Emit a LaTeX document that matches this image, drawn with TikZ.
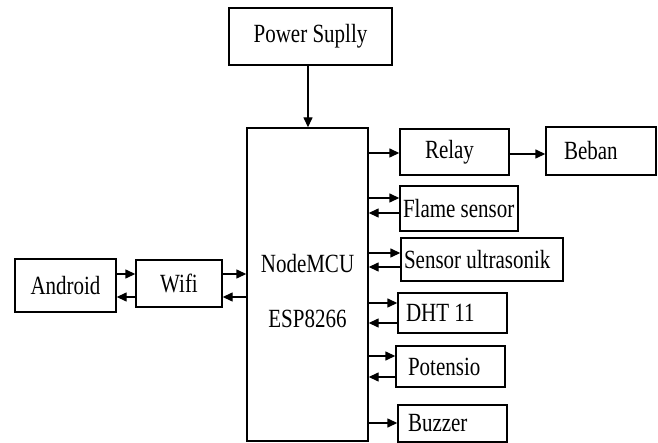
\documentclass[tikz,border=0pt]{standalone}
\usepackage{fontspec}
\usepackage{graphicx}
\setmainfont{Liberation Serif}
\usetikzlibrary{arrows.meta,calc}
\newcommand\tx[1]{\scalebox{1}[1.25]{#1}}
\newcommand\lbox[3]{\makebox[#1pt][l]{\hspace*{#2pt}\tx{#3}}}
\tikzset{
  box/.style={draw, line width=1.4pt, rectangle, inner sep=0pt, font=\fontsize{21}{24}\selectfont},
  arr/.style={line width=1.4pt, -{Triangle[length=10pt,width=9pt]}},
}
\begin{document}
\begin{tikzpicture}[x=1pt,y=-1pt]
\useasboundingbox (0,0) rectangle (658,443);
\node[box, minimum width=163, minimum height=57] (power) at (310.5,36.5) {\tx{Power Suplly}};
\node[box, minimum width=121, minimum height=313] (mcu) at (307.5,284.5) {\raisebox{-15pt}[0pt][0pt]{\begin{tabular}{@{}c@{}}\tx{NodeMCU}\\[30pt]\tx{ESP8266}\end{tabular}}};
\node[box, minimum width=109, minimum height=46] (relay) at (454.5,152) {\lbox{109}{25}{Relay}};
\node[box, minimum width=110, minimum height=48] (beban) at (601,151) {\lbox{110}{18}{Beban}};
\node[box, minimum width=118, minimum height=45] (flame) at (459,208.5) {\lbox{118}{3}{Flame sensor}};
\node[box, minimum width=162, minimum height=43] (ultra) at (482,259.5) {\lbox{162}{3}{Sensor ultrasonik}};
\node[box, minimum width=109, minimum height=40] (dht) at (452.5,313) {\lbox{109}{8}{DHT 11}};
\node[box, minimum width=109, minimum height=41] (pot) at (450.5,366.5) {\lbox{109}{12}{Potensio}};
\node[box, minimum width=109, minimum height=37] (buzz) at (452.5,423.5) {\lbox{109}{10}{Buzzer}};
\node[box, minimum width=101, minimum height=53] (android) at (65.5,285.5) {\tx{Android}};
\node[box, minimum width=86, minimum height=47] (wifi) at (179,283.5) {\tx{Wifi}};

\draw[arr] (power.south -| 308,0) -- (mcu.north -| 308,0);
\draw[arr] (mcu.east |- 0,153) -- (relay.west |- 0,153);
\draw[arr] (relay.east |- 0,154) -- (beban.west |- 0,154);
\draw[arr] (mcu.east |- 0,198) -- (flame.west |- 0,198);
\draw[arr] (flame.west |- 0,213) -- (mcu.east |- 0,213);
\draw[arr] (mcu.east |- 0,253) -- (ultra.west |- 0,253);
\draw[arr] (ultra.west |- 0,267) -- (mcu.east |- 0,267);
\draw[arr] (mcu.east |- 0,303) -- (dht.west |- 0,303);
\draw[arr] (dht.west |- 0,323) -- (mcu.east |- 0,323);
\draw[arr] (mcu.east |- 0,356) -- (pot.west |- 0,356);
\draw[arr] (pot.west |- 0,377) -- (mcu.east |- 0,377);
\draw[arr] (mcu.east |- 0,423) -- (buzz.west |- 0,423);
\draw[arr] (android.east |- 0,274) -- (wifi.west |- 0,274);
\draw[arr] (wifi.west |- 0,297) -- (android.east |- 0,297);
\draw[arr] (wifi.east |- 0,274) -- (mcu.west |- 0,274);
\draw[arr] (mcu.west |- 0,297) -- (wifi.east |- 0,297);
\end{tikzpicture}
\end{document}
